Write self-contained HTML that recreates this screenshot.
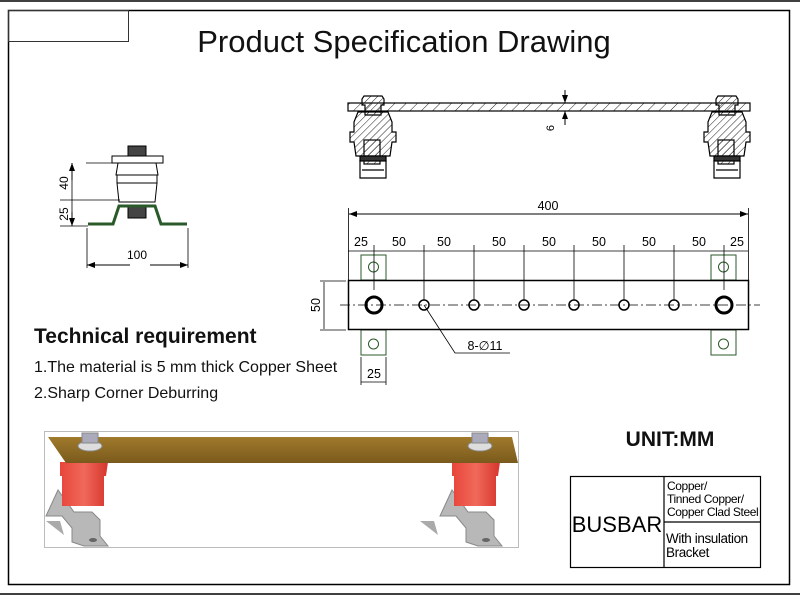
<!DOCTYPE html>
<html><head><meta charset="utf-8"><style>
body{margin:0;background:#fff;width:800px;height:595px;overflow:hidden}
svg{display:block}
text{font-family:"Liberation Sans",sans-serif}
</style></head><body>
<svg width="800" height="595" viewBox="0 0 800 595" xmlns="http://www.w3.org/2000/svg">
<defs>
<pattern id="h" width="5" height="5" patternUnits="userSpaceOnUse" patternTransform="rotate(45)"><line x1="0" y1="0" x2="0" y2="5" stroke="#222" stroke-width="1"/></pattern>
<pattern id="h2" width="8" height="8" patternUnits="userSpaceOnUse" patternTransform="rotate(45)"><line x1="0" y1="0" x2="0" y2="8" stroke="#222" stroke-width="1"/></pattern>
<linearGradient id="cu" x1="0" y1="0" x2="0" y2="1"><stop offset="0" stop-color="#a07a2c"/><stop offset="1" stop-color="#7a5a1c"/></linearGradient>
<linearGradient id="rd" x1="0" y1="0" x2="1" y2="0"><stop offset="0" stop-color="#e8453a"/><stop offset="0.5" stop-color="#f0695a"/><stop offset="1" stop-color="#d6352c"/></linearGradient>
<marker id="a" markerWidth="8" markerHeight="6" refX="8" refY="3" orient="auto-start-reverse" markerUnits="userSpaceOnUse"><path d="M0,0 L8,3 L0,6z" fill="#000"/></marker>
</defs>
<!-- frames -->
<line x1="0" y1="1" x2="800" y2="1" stroke="#000" stroke-width="1.5"/>
<line x1="0" y1="594" x2="800" y2="594" stroke="#000" stroke-width="1.5"/>
<rect x="8.5" y="10.5" width="781" height="574" fill="none" stroke="#000" stroke-width="1.5"/>
<rect x="8.5" y="10.5" width="120" height="31" fill="none" stroke="#333" stroke-width="1"/>
<text x="404" y="52" font-size="31" text-anchor="middle" fill="#111">Product Specification Drawing</text>

<!-- top section view -->
<g stroke="#000" stroke-width="1.2">
<rect x="348" y="103" width="402" height="8" fill="url(#h2)"/>
<g id="ins">
<path d="M364,96 h18 l2,3 v6 h-3 v10 h-16 v-10 h-3 v-6z" fill="url(#h)"/>
<path d="M358,112 h30 l4,10 v10 h4 v10 h-4 l-2,14 h-34 l-2,-14 h-4 v-10 h4 v-10z" fill="url(#h)"/>
<rect x="364" y="140" width="16" height="24" fill="url(#h)"/>
<rect x="360" y="156" width="26" height="5" fill="#333"/>
<path d="M360,160 v18 h26 v-18" fill="none"/>
<line x1="362" y1="170" x2="384" y2="170"/>
</g>
<use href="#ins" transform="translate(354,0)"/>
</g>
<line x1="565" y1="90" x2="565" y2="103" stroke="#000" marker-end="url(#a)"/>
<line x1="565" y1="125" x2="565" y2="111" stroke="#000" marker-end="url(#a)"/>
<text x="554" y="128" font-size="11" transform="rotate(-90 554 128)" text-anchor="middle">6</text>

<!-- left side view -->
<g stroke="#000" stroke-width="1">
<rect x="128" y="146" width="18" height="10" fill="#444"/>
<rect x="112" y="156" width="51" height="7" fill="#fff"/>
<path d="M118,163 h38 l2,12 h-42z" fill="#fff"/>
<rect x="117" y="175" width="40" height="8" fill="#fff"/>
<path d="M117,183 h40 l-2,19 h-36z" fill="#fff"/>
<rect x="128" y="206" width="18" height="12" fill="#444"/>
<path d="M88,224 h25 l6,-18 h36 l6,18 h26" fill="none" stroke="#2a5a2a" stroke-width="3"/>
<line x1="86" y1="163" x2="112" y2="163" stroke-width="0.8"/>
<line x1="60" y1="200" x2="120" y2="200" stroke-width="0.8"/>
<line x1="60" y1="226" x2="88" y2="226" stroke-width="0.8"/>
<line x1="72" y1="163" x2="72" y2="226" stroke-width="0.8"/>
<line x1="87" y1="228" x2="87" y2="268" stroke-width="0.8"/>
<line x1="188" y1="228" x2="188" y2="268" stroke-width="0.8"/>
</g>
<line x1="72" y1="180" x2="72" y2="163" stroke="#000" marker-end="url(#a)"/>
<line x1="72" y1="212" x2="72" y2="226" stroke="#000" marker-end="url(#a)"/>
<line x1="130" y1="265" x2="87" y2="265" stroke="#000" marker-end="url(#a)"/>
<line x1="150" y1="265" x2="188" y2="265" stroke="#000" marker-end="url(#a)"/>
<text x="68" y="183" font-size="12" transform="rotate(-90 68 183)" text-anchor="middle">40</text>
<text x="68" y="214" font-size="12" transform="rotate(-90 68 214)" text-anchor="middle">25</text>
<text x="137" y="259" font-size="12" text-anchor="middle">100</text>

<!-- plan view -->
<g stroke="#2a5a2a" stroke-width="1" fill="#fff">
<rect x="361" y="255" width="25" height="25"/><rect x="361" y="330" width="25" height="25"/>
<rect x="711" y="255" width="25" height="25"/><rect x="711" y="330" width="25" height="25"/>
<circle cx="373.5" cy="267" r="5"/><circle cx="373.5" cy="344" r="5"/>
<circle cx="723.5" cy="267" r="5"/><circle cx="723.5" cy="344" r="5"/>
</g>
<rect x="348.5" y="280.5" width="400" height="49" fill="none" stroke="#000" stroke-width="1.5"/>
<line x1="340" y1="305" x2="760" y2="305" stroke="#000" stroke-width="0.7" stroke-dasharray="10,3,2,3"/>
<g fill="none" stroke="#000">
<circle cx="374" cy="305" r="8" stroke-width="3"/>
<circle cx="724" cy="305" r="8" stroke-width="3"/>
<circle cx="424" cy="305" r="5" stroke-width="1.5"/><circle cx="474" cy="305" r="5" stroke-width="1.5"/>
<circle cx="524" cy="305" r="5" stroke-width="1.5"/><circle cx="574" cy="305" r="5" stroke-width="1.5"/>
<circle cx="624" cy="305" r="5" stroke-width="1.5"/><circle cx="674" cy="305" r="5" stroke-width="1.5"/>
<path d="M424,305 L455,353 H510" stroke-width="0.8"/>
</g>
<g stroke="#000" stroke-width="0.8">
<line x1="348.5" y1="208" x2="348.5" y2="280"/><line x1="748.5" y1="208" x2="748.5" y2="280"/>
<line x1="374" y1="245" x2="374" y2="290"/><line x1="424" y1="245" x2="424" y2="300"/>
<line x1="474" y1="245" x2="474" y2="300"/><line x1="524" y1="245" x2="524" y2="300"/>
<line x1="574" y1="245" x2="574" y2="300"/><line x1="624" y1="245" x2="624" y2="300"/>
<line x1="674" y1="245" x2="674" y2="300"/><line x1="724" y1="245" x2="724" y2="290"/>
<line x1="348" y1="251" x2="748" y2="251"/>
<line x1="320" y1="281" x2="346" y2="281"/><line x1="320" y1="330" x2="346" y2="330"/>
<line x1="361" y1="357" x2="361" y2="385"/><line x1="386" y1="357" x2="386" y2="385"/>
<line x1="361" y1="382" x2="386" y2="382"/>
<line x1="324" y1="282" x2="324" y2="329"/>
</g>
<line x1="548" y1="214" x2="748" y2="214" stroke="#000" marker-end="url(#a)"/>
<line x1="548" y1="214" x2="349" y2="214" stroke="#000" marker-end="url(#a)"/>
<g font-size="12.5" text-anchor="middle">
<text x="548" y="210">400</text>
<text x="361" y="246">25</text><text x="399" y="246">50</text><text x="444" y="246">50</text>
<text x="499" y="246">50</text><text x="549" y="246">50</text><text x="599" y="246">50</text>
<text x="649" y="246">50</text><text x="699" y="246">50</text><text x="737" y="246">25</text>
<text x="374" y="378">25</text>
<text x="485" y="350">8-∅11</text>
<text x="320" y="305" transform="rotate(-90 320 305)">50</text>
</g>

<!-- text -->
<text x="34" y="343" font-size="21" font-weight="bold" fill="#111">Technical requirement</text>
<text x="34" y="372" font-size="16" fill="#111">1.The material is 5 mm thick Copper Sheet</text>
<text x="34" y="398" font-size="16" fill="#111">2.Sharp Corner Deburring</text>
<text x="670" y="446" font-size="21" font-weight="bold" text-anchor="middle" fill="#111">UNIT:MM</text>

<!-- table -->
<g fill="none" stroke="#000" stroke-width="1.2">
<rect x="570.5" y="476.5" width="190" height="91"/>
<line x1="664" y1="476" x2="664" y2="568"/>
<line x1="664" y1="522" x2="761" y2="522"/>
</g>
<text x="617" y="532" font-size="22" text-anchor="middle">BUSBAR</text>
<g font-size="12" font-family="Liberation Sans" letter-spacing="-0.4">
<text x="667" y="490">Copper/</text><text x="667" y="503">Tinned Copper/</text><text x="667" y="516">Copper Clad Steel</text>
<text x="666" y="543" font-size="13.5">With insulation</text><text x="666" y="557" font-size="13.5">Bracket</text>
</g>

<!-- photo -->
<rect x="44.5" y="431.5" width="474" height="116" fill="#fff" stroke="#bbb"/>
<g>
<path d="M64,535 l-18,-14 h14 z M438,535 l-18,-14 h14z" fill="#aaa"/>
<path d="M58,490 l-12,26 h16 l10,12 v14 l12,4 h24 l-8,-10 v-16 l-8,-8 h-18z" fill="#b8b8b8" stroke="#888"/>
<path d="M452,490 l-12,26 h16 l10,12 v14 l12,4 h24 l-8,-10 v-16 l-8,-8 h-18z" fill="#b8b8b8" stroke="#888"/>
<path d="M60,462 h48 l-2,14 h-2 v30 h-42 v-30 h-2z" fill="url(#rd)"/>
<path d="M452,462 h48 l-2,14 h-2 v30 h-42 v-30 h-2z" fill="url(#rd)"/>
<path d="M48,437 H512 L518,463 H66z" fill="url(#cu)"/>
<ellipse cx="90" cy="446" rx="12" ry="5" fill="#ddd" stroke="#888"/>
<rect x="82" y="433" width="16" height="10" fill="#aab" stroke="#888"/>
<ellipse cx="480" cy="446" rx="12" ry="5" fill="#ddd" stroke="#888"/>
<rect x="472" y="433" width="16" height="10" fill="#aab" stroke="#888"/>
<ellipse cx="93" cy="540" rx="4" ry="2" fill="#666"/><ellipse cx="486" cy="540" rx="4" ry="2" fill="#666"/>
</g>
</svg>
</body></html>
